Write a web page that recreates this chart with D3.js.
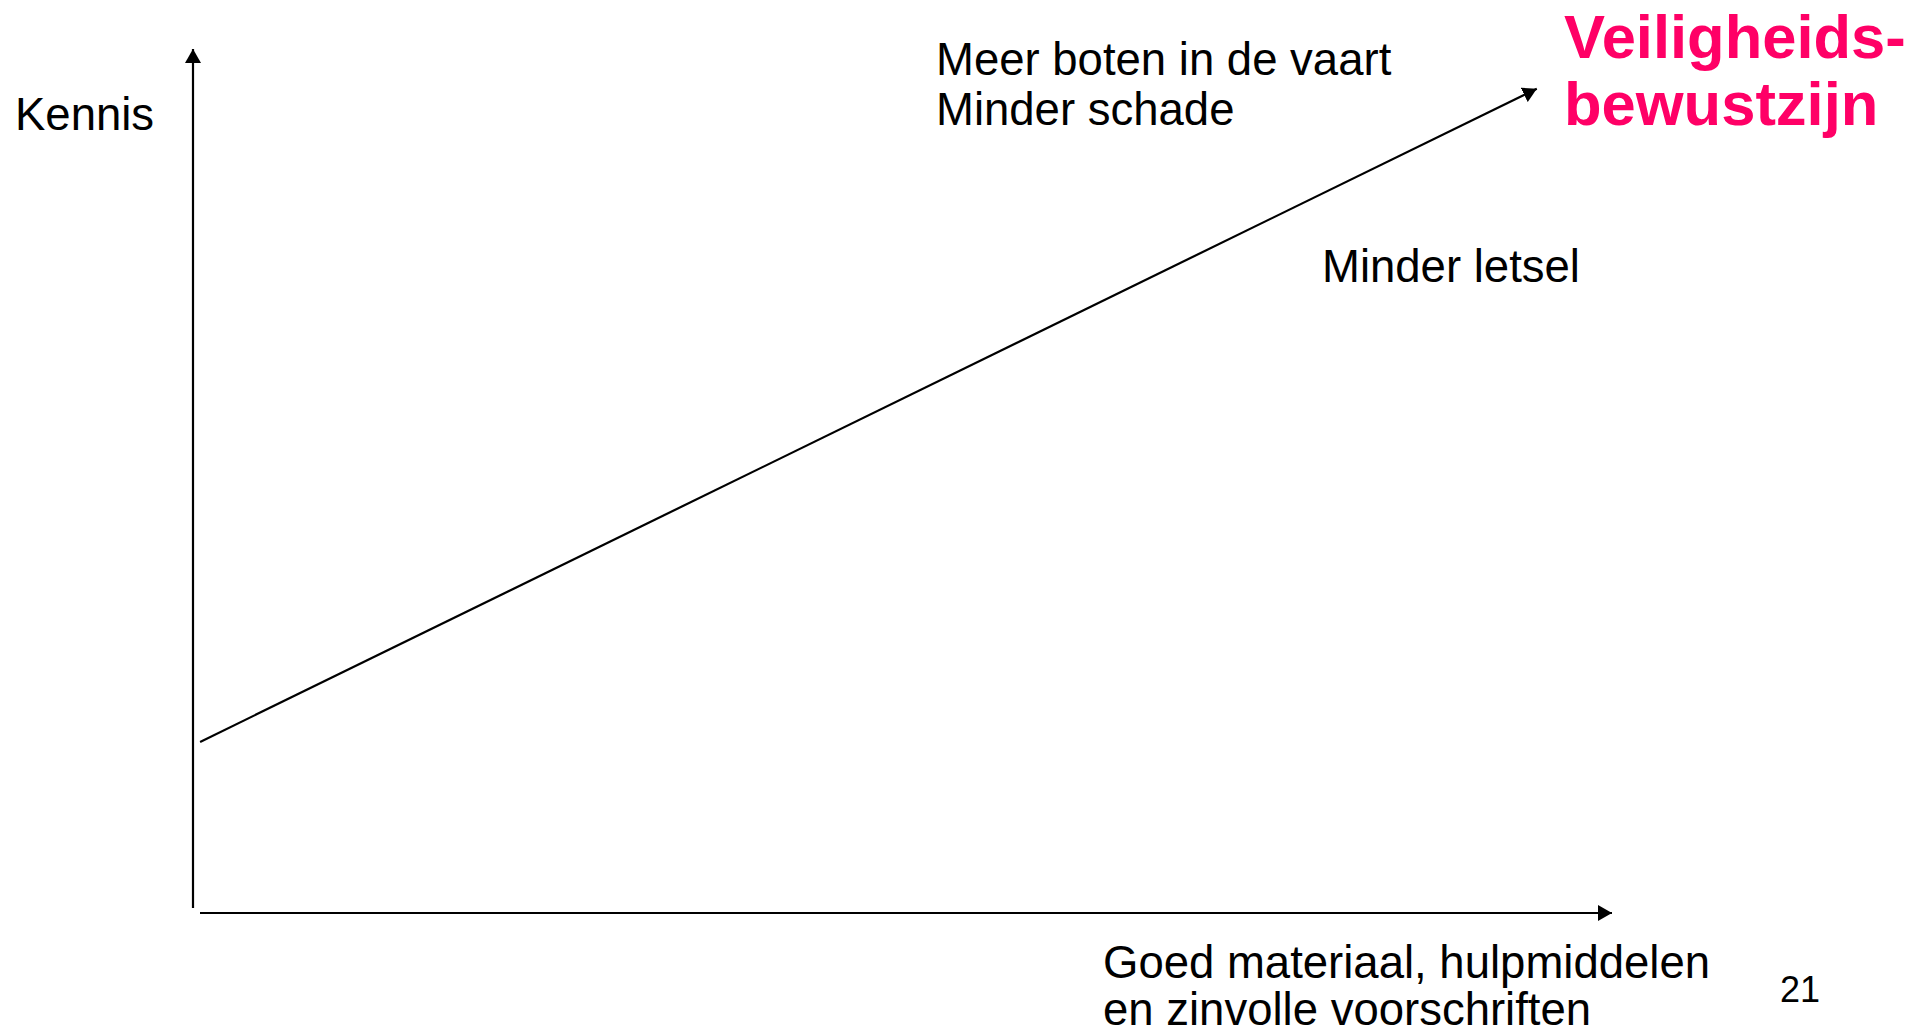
<!DOCTYPE html>
<html>
<head>
<meta charset="utf-8">
<script src="https://cdn.jsdelivr.net/npm/d3@7"></script>
<style>
  html, body { margin: 0; padding: 0; background: #fff; }
  svg { display: block; }
  text { font-family: "Liberation Sans", Arial, sans-serif; }
</style>
</head>
<body>
<svg id="chart" width="1925" height="1034"></svg>
<script>
// ---- data ----
const xDomain = [0, 100];
const yDomain = [0, 100];
const trendX = [0.5, 94.7];
const trendY = [19.8, 95.4];
const yAxisTitle = ["Kennis"];
const xAxisTitle = ["Goed materiaal, hulpmiddelen", "en zinvolle voorschriften"];
const topNotes = ["Meer boten in de vaart", "Minder schade"];
const midNote = ["Minder letsel"];
const highlight = ["Veiligheids-", "bewustzijn"];
const pageNumber = ["21"];

// ---- drawing ----
const svg = d3.select("#chart");
const x = d3.scaleLinear().domain(xDomain).range([193, 1612]);
const y = d3.scaleLinear().domain(yDomain).range([913, 49]);

const defs = svg.append("defs");
defs.append("marker")
  .attr("id", "arrow")
  .attr("markerUnits", "userSpaceOnUse")
  .attr("viewBox", "0 0 14 16")
  .attr("refX", 14).attr("refY", 8)
  .attr("markerWidth", 14).attr("markerHeight", 16)
  .attr("orient", "auto")
  .append("path").attr("d", "M0,0 L14,8 L0,16 Z").attr("fill", "#000");

// y axis
svg.append("line")
  .attr("x1", x(xDomain[0])).attr("y1", y(yDomain[0]) - 5)
  .attr("x2", x(xDomain[0])).attr("y2", y(yDomain[1]))
  .attr("stroke", "#000").attr("stroke-width", 2.2)
  .attr("marker-end", "url(#arrow)");

// x axis
svg.append("line")
  .attr("x1", x(xDomain[0]) + 7).attr("y1", y(yDomain[0]))
  .attr("x2", x(xDomain[1])).attr("y2", y(yDomain[0]))
  .attr("stroke", "#000").attr("stroke-width", 2.2)
  .attr("marker-end", "url(#arrow)");

// trend line
const pts = trendX.map((v, i) => [x(v), y(trendY[i])]);
svg.append("path")
  .attr("d", d3.line()(pts))
  .attr("fill", "none")
  .attr("stroke", "#000").attr("stroke-width", 2.2)
  .attr("marker-end", "url(#arrow)");

function block(lines, px, py, lh, size, opts = {}) {
  const t = svg.append("text")
    .attr("x", px).attr("y", py)
    .attr("font-size", size)
    .attr("fill", opts.fill || "#000")
    .attr("font-weight", opts.weight || "normal");
  lines.forEach((l, i) => {
    t.append("tspan").attr("x", px).attr("y", py + i * lh).text(l);
  });
}

block(yAxisTitle, 15, 130, 50, 45.5);
block(topNotes, 936, 75, 50, 45.5);
block(midNote, 1322, 282, 50, 45.5);
block(highlight, 1564, 58, 67, 61.5, { fill: "#FF0066", weight: "bold" });
block(xAxisTitle, 1103, 978, 47, 45.5);
block(pageNumber, 1780, 1002, 50, 36);
</script>
</body>
</html>
